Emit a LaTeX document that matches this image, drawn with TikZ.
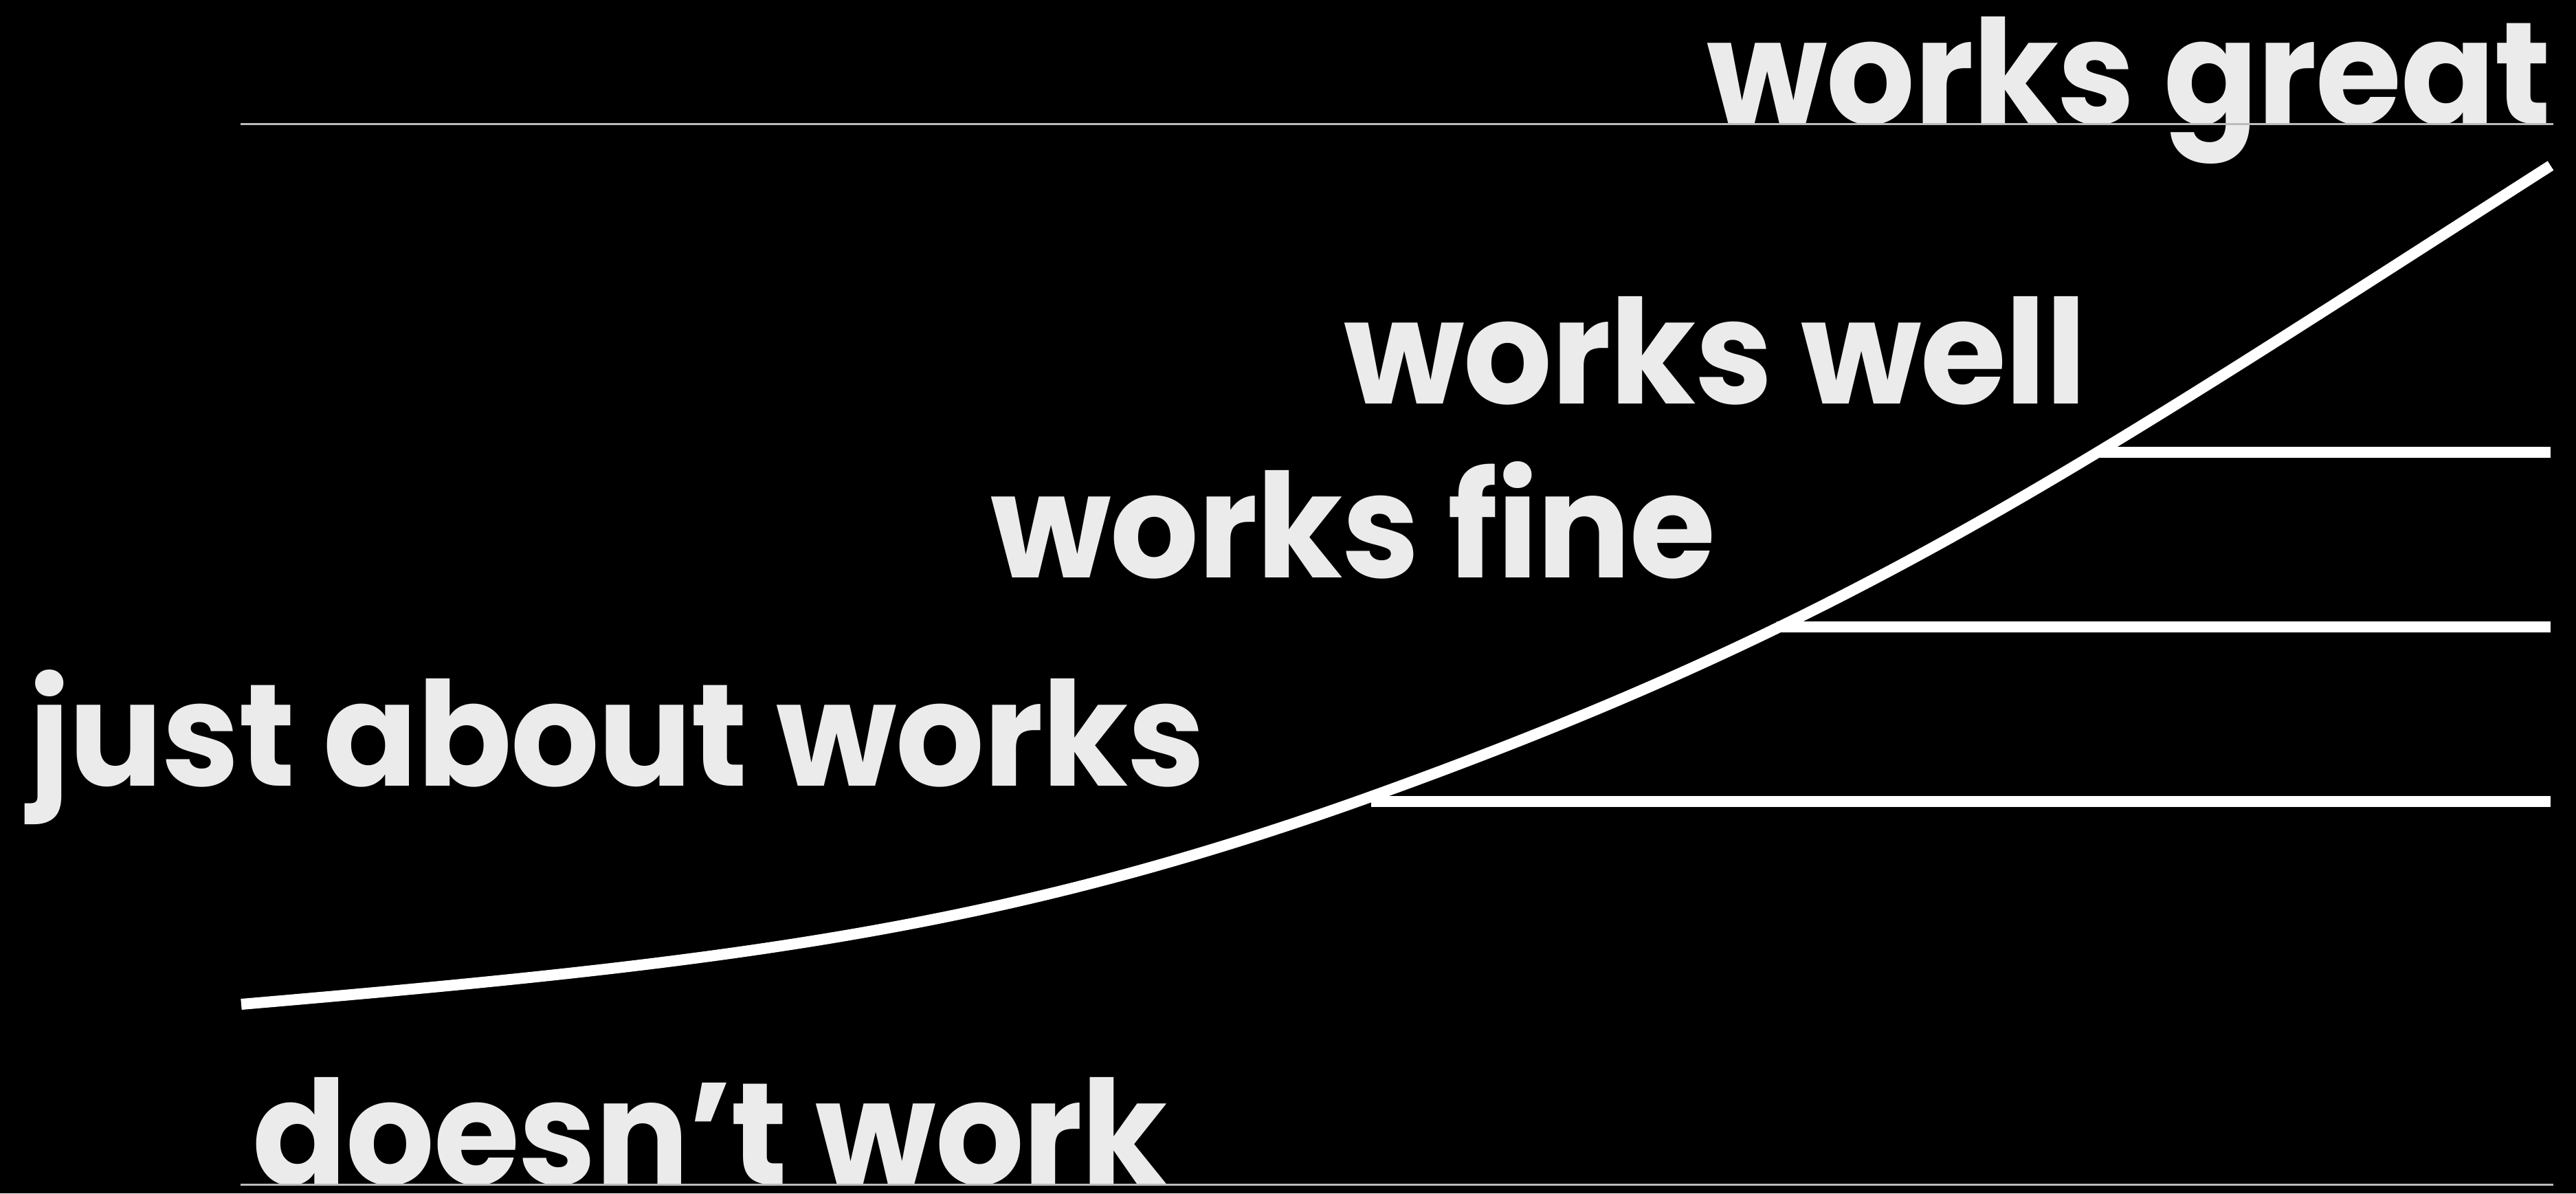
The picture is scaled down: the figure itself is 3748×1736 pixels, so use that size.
\documentclass[tikz,border=0pt]{standalone}
\usepackage{fontspec}
\setmainfont{Poppins}[FakeStretch=0.96, LetterSpace=-0.7]
\usetikzlibrary{positioning}

\definecolor{labelgrey}{HTML}{EBEBEB}
\definecolor{rulegrey}{HTML}{BBBBBB}

\begin{document}
\begin{tikzpicture}[x=0.01cm, y=-0.01cm,
    level/.style={inner sep=0pt, text depth=0pt, text=labelgrey, font=\fontsize{60}{72}\selectfont\bfseries},
    thinrule/.style={draw=rulegrey, line width=0.03cm},
    thickrule/.style={draw=white, line width=0.16cm}]
        % Background
        \fill[black] (0,0) rectangle (3748,1736);

        % Draw labels
        \node[level, anchor=base east] (great) at (3712,180) {works great};
        \node[level, anchor=base west] (well) at (1955,587) {works well};
        \node[level, anchor=base west] (fine) at (1441,840) {works fine};
        \node[level, anchor=base west] (about) at (42,1143) {just about works};
        \node[level, anchor=base west] (doesnt) at (367,1723) {doesn't work};

        % Draw top and bottom rules
        \coordinate (topl) at (350,180);
        \coordinate (topr) at (3715,180);
        \coordinate (botl) at (350,1723);
        \coordinate (botr) at (3715,1723);
        \draw[thinrule] (topl) -- (topr);
        \draw[thinrule] (botl) -- (botr);

        % Draw curve
        \coordinate (start) at (351,1461);
        \coordinate (mid) at (2000,1157);
        \coordinate (end) at (3711,241);
        \draw[thickrule] (start) .. controls (1051,1401) and (1450,1355) .. (mid)
                                 .. controls (2700,905) and (3011,689) .. (end);

        % Draw levels
        \coordinate (c1) at (3052,658);
        \coordinate (c2) at (2585,912);
        \coordinate (c3) at (1995,1166);
        \coordinate (r1) at (3711,658);
        \coordinate (r2) at (3711,912);
        \coordinate (r3) at (3711,1166);
        \draw[thickrule] (c1) -- (r1);
        \draw[thickrule] (c2) -- (r2);
        \draw[thickrule] (c3) -- (r3);
    \end{tikzpicture}
\end{document}
